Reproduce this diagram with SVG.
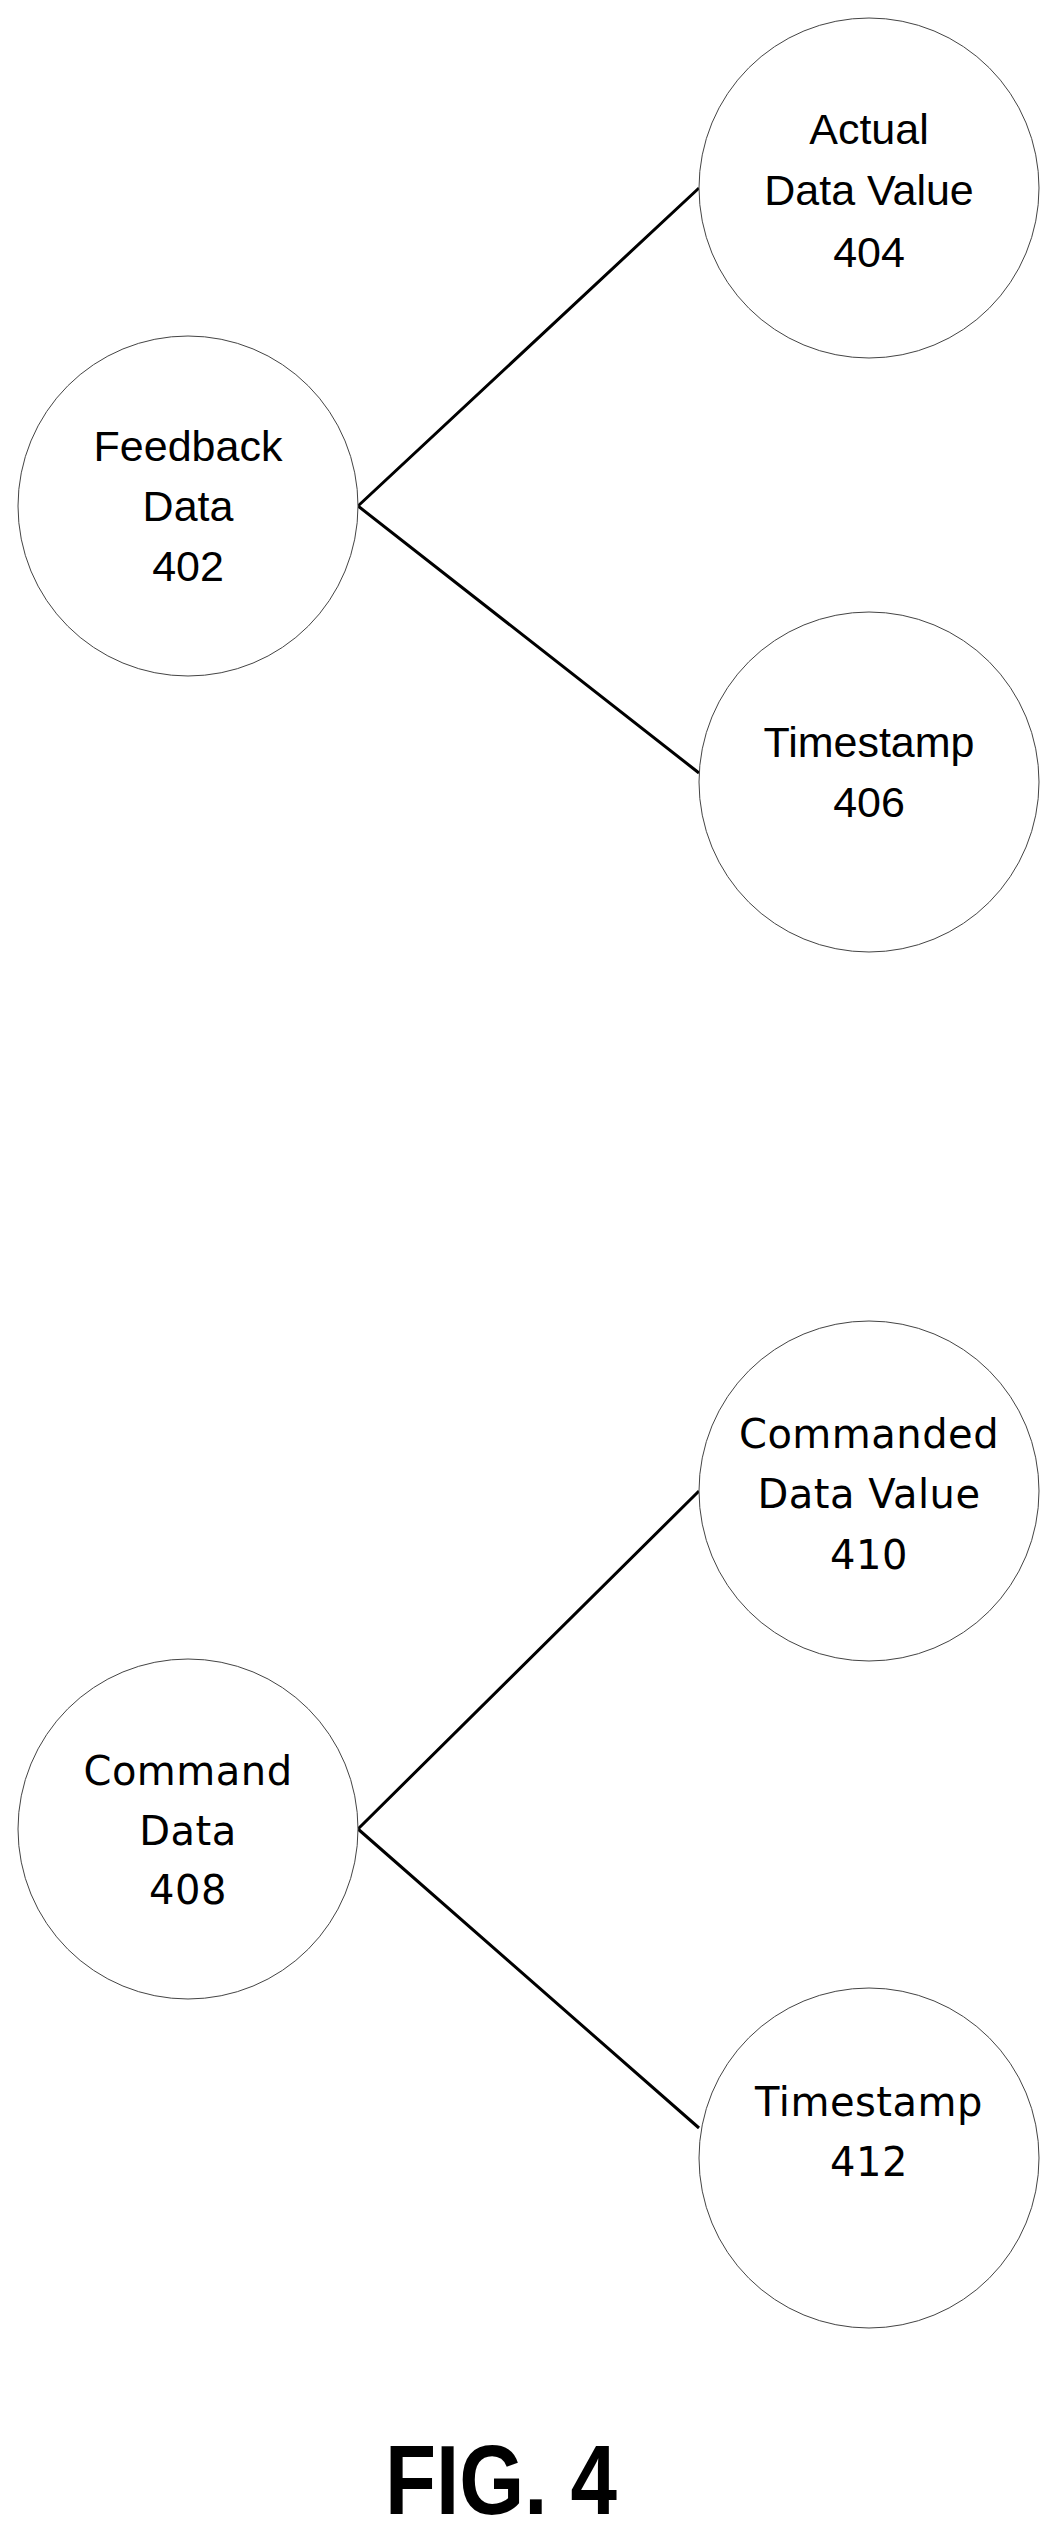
<svg xmlns="http://www.w3.org/2000/svg" width="1054" height="2537" viewBox="0 0 1054 2537">
<style>
.n{fill:#fff;stroke:#444;stroke-width:1}
.t{font-family:"Liberation Sans",Arial,sans-serif;font-size:43px;text-anchor:middle;fill:#000}
.b{font-family:"DejaVu Sans",sans-serif;font-size:40px;letter-spacing:0.5px;text-anchor:middle;fill:#000}
.c{stroke:#000;stroke-width:3;fill:none}
</style>
<rect width="1054" height="2537" fill="#fff"/>
<g id="connectors">
<path class="c" d="M358 506L699 188M358 506L699 773M358 1829L699 1491M358 1829L699 2128"/>
</g>
<g id="n402"><ellipse class="n" cx="188" cy="506" rx="170" ry="170"/><text class="t" x="188" y="461">Feedback</text><text class="t" x="188" y="521">Data</text><text class="t" x="188" y="581">402</text></g>
<g id="n404"><ellipse class="n" cx="869" cy="188" rx="170" ry="170"/><text class="t" x="869" y="144">Actual</text><text class="t" x="869" y="205">Data Value</text><text class="t" x="869" y="267">404</text></g>
<g id="n406"><ellipse class="n" cx="869" cy="782" rx="170" ry="170"/><text class="t" x="869" y="757">Timestamp</text><text class="t" x="869" y="817">406</text></g>
<g id="n408"><ellipse class="n" cx="188" cy="1829" rx="170" ry="170"/><text class="b" x="188" y="1785">Command</text><text class="b" x="188" y="1845">Data</text><text class="b" x="188" y="1904">408</text></g>
<g id="n410"><ellipse class="n" cx="869" cy="1491" rx="170" ry="170"/><text class="b" x="869" y="1448">Commanded</text><text class="b" x="869" y="1508">Data Value</text><text class="b" x="869" y="1569">410</text></g>
<g id="n412"><ellipse class="n" cx="869" cy="2158" rx="170" ry="170"/><text class="b" x="869" y="2116">Timestamp</text><text class="b" x="869" y="2176">412</text></g>
<text x="501" y="2514" font-family="Liberation Sans,Arial,sans-serif" font-weight="bold" font-size="98" text-anchor="middle" textLength="232" lengthAdjust="spacingAndGlyphs">FIG. 4</text>
</svg>
